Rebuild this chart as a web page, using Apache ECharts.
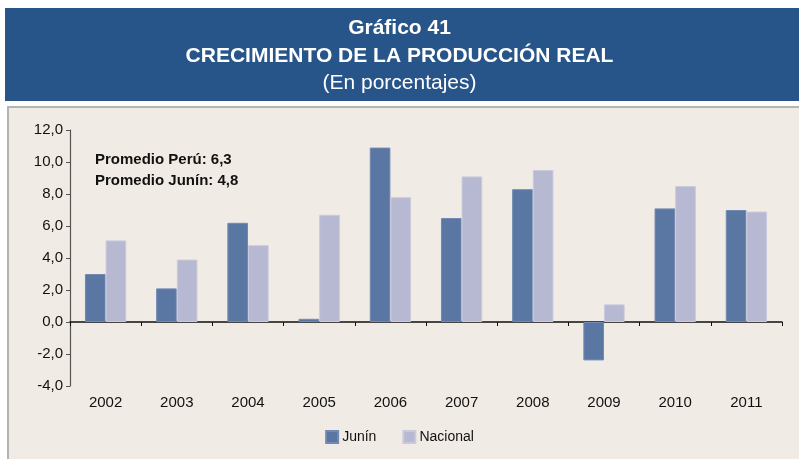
<!DOCTYPE html>
<html>
<head>
<meta charset="utf-8">
<script src="https://cdn.jsdelivr.net/npm/echarts@6/dist/echarts.min.js"></script>
<style>
  html, body { margin: 0; padding: 0; background: #ffffff; }
  #chart { width: 799px; height: 459px; }
</style>
</head>
<body>
<div id="chart"></div>
<script>
// Crecimiento de la producción real, Junín vs. Nacional (%)
const years = ['2002', '2003', '2004', '2005', '2006', '2007', '2008', '2009', '2010', '2011'];
const junin = [3.0, 2.1, 6.2, 0.2, 10.9, 6.5, 8.3, -2.4, 7.1, 7.0];
const nacional = [5.1, 3.9, 4.8, 6.7, 7.8, 9.1, 9.5, 1.1, 8.5, 6.9];
const yTicks = { min: -4, max: 12, step: 2 };
const titleLines = ['Gráfico 41', 'CRECIMIENTO DE LA PRODUCCIÓN REAL', '(En porcentajes)'];
const noteLines = ['Promedio Perú: 6,3', 'Promedio Junín: 4,8'];

const FONT = '"Liberation Sans", Arial, sans-serif';
const fmt = v => v.toFixed(1).replace('.', ',');

const chart = echarts.init(document.getElementById('chart'), null, { renderer: 'canvas' });

chart.setOption({
  backgroundColor: '#ffffff',
  animation: false,
  textStyle: { fontFamily: FONT },
  graphic: [
    // title band
    { type: 'rect', left: 5, top: 8, z: -10, silent: true,
      shape: { width: 794, height: 93 }, style: { fill: '#27558a' } },
    { type: 'text', left: 'center', top: 18, style: {
        text: titleLines[0], fill: '#ffffff', font: 'bold 21px ' + FONT } },
    { type: 'text', left: 'center', top: 46, style: {
        text: titleLines[1], fill: '#ffffff', font: 'bold 21px ' + FONT } },
    { type: 'text', left: 'center', top: 73, style: {
        text: titleLines[2], fill: '#ffffff', font: '21px ' + FONT } },
    // chart panel
    { type: 'rect', left: 7, top: 106, z: -10, silent: true,
      shape: { width: 792, height: 353 },
      style: { fill: '#f1ebe5', stroke: '#b4b4b4', lineWidth: 2 } },
    // averages note
    { type: 'text', left: 95, top: 149, z: 10, style: {
        text: noteLines.join('\n'), fill: '#111111', lineHeight: 21,
        font: 'bold 15px ' + FONT } }
  ],
  legend: {
    bottom: 10,
    left: 'center',
    itemWidth: 12,
    itemHeight: 12,
    itemGap: 26,
    icon: 'rect',
    textStyle: { fontSize: 14, color: '#111111', fontFamily: FONT, padding: [0, 0, 0, -1] },
    data: ['Junín', 'Nacional']
  },
  grid: { left: 70, right: 17, top: 130, bottom: 73, containLabel: false },
  xAxis: [
    {
      type: 'category',
      data: years,
      position: 'bottom',
      axisLine: { show: false, onZero: false },
      axisTick: { show: false },
      axisLabel: { color: '#111111', fontSize: 15, margin: 9, fontFamily: FONT }
    },
    {
      type: 'category',
      data: years,
      position: 'bottom',
      axisLine: { show: true, onZero: true, lineStyle: { color: '#111111', width: 1.5 } },
      axisTick: { show: true, length: 4, inside: false, lineStyle: { color: '#111111' } },
      axisLabel: { show: false }
    }
  ],
  yAxis: {
    type: 'value',
    min: yTicks.min,
    max: yTicks.max,
    interval: yTicks.step,
    axisLine: { show: true, lineStyle: { color: '#555555', width: 1.2 } },
    axisTick: { show: true, length: 4, lineStyle: { color: '#555555' } },
    splitLine: { show: false },
    axisLabel: { color: '#111111', fontSize: 15, margin: 7, formatter: fmt, fontFamily: FONT }
  },
  series: [
    {
      name: 'Junín',
      type: 'bar',
      xAxisIndex: 0,
      data: junin,
      barGap: '0%',
      barCategoryGap: '42%',
      itemStyle: { color: '#5a77a4', borderColor: '#7189b3', borderWidth: 1 }
    },
    {
      name: 'Nacional',
      type: 'bar',
      xAxisIndex: 0,
      data: nacional,
      barGap: '0%',
      barCategoryGap: '42%',
      itemStyle: { color: '#b7b8d1', borderColor: '#c9cadc', borderWidth: 1 }
    }
  ]
});
</script>
</body>
</html>
